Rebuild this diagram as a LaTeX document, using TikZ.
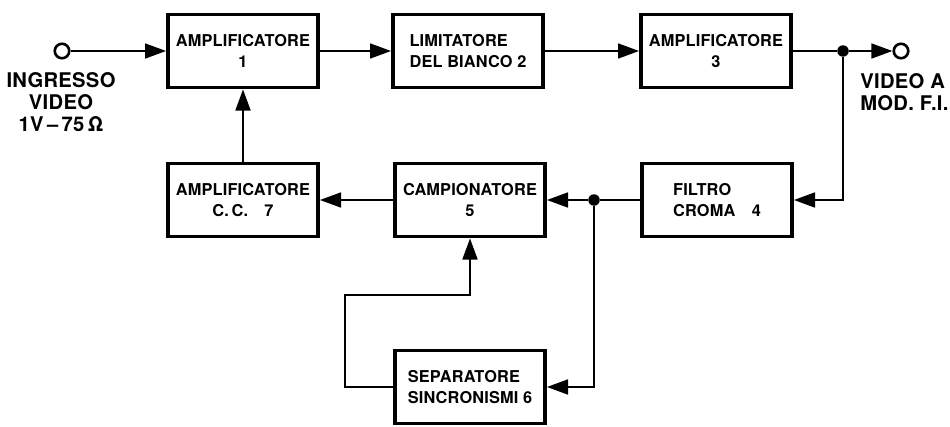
\documentclass[tikz,border=0pt]{standalone}
\usepackage{fontspec}
\setmainfont{TeX Gyre Heros}
\newfontfamily\blockfont[LetterSpace=1]{TeX Gyre Heros}
\newfontfamily\sidefont[LetterSpace=1.5]{TeX Gyre Heros}
\usetikzlibrary{arrows.meta}
\tikzset{block/.style={draw=black,line width=2.2pt,minimum width=3.0cm,minimum height=1.46cm,inner sep=0pt,font=\blockfont\bfseries\fontsize{9.3}{12}\selectfont}}

\begin{document}
\begin{tikzpicture}[x=0.02cm,y=-0.02cm]
\tikzset{wire/.style={line width=1.1pt,-{Triangle[length=12pt,width=8.5pt]}}}
\tikzset{plainwire/.style={line width=1.1pt}}
\tikzset{junction/.style={circle,fill=black,inner sep=0pt,minimum size=0.23cm}}
\tikzset{terminal/.style={circle,draw=black,line width=1.5pt,fill=white,inner sep=0pt,minimum size=0.29cm}}
\tikzset{sidetext/.style={inner sep=0pt,font=\sidefont\bfseries\fontsize{11.5}{12.5}\selectfont}}
\useasboundingbox (0,0) rectangle (950,426);
% blocks
\node[block,align=center] (amp1) at (243,51) {AMPLIFICATORE\\1};
\node[block,align=left] (lim2) at (468,51) {LIMITATORE\\DEL BIANCO 2};
\node[block,align=center] (amp3) at (716,51) {AMPLIFICATORE\\3};
\node[block,align=left] (filt4) at (717,200) {FILTRO\\CROMA\quad 4};
\node[block,align=center] (camp5) at (470,200) {CAMPIONATORE\\5};
\node[block,align=center] (amp7) at (243,200) {AMPLIFICATORE\\C.\,C.\quad 7};
\node[block,align=left] (sep6) at (470,387) {SEPARATORE\\SINCRONISMI 6};
% terminals and junctions
\node[terminal] (inp) at (62,51) {};
\node[terminal] (outp) at (901,51) {};
\node[junction] (j1) at (843,51) {};
\node[junction] (j2) at (594,200) {};
\coordinate (bend) at (345,295);
\node[sidetext,align=center,anchor=north] (inlbl) at (61,72) {INGRESSO\\VIDEO\\1V\,–\,75\,Ω};
\node[sidetext,align=left,anchor=north west] (outlbl) at (860,73) {VIDEO A\\MOD. F.I.};
% wires
\draw[wire] (inp) -- (amp1);
\draw[wire] (amp1) -- (lim2);
\draw[wire] (lim2) -- (amp3);
\draw[plainwire] (amp3) -- (j1);
\draw[wire] (j1) -- (outp);
\draw[wire] (j1) |- (filt4.east);
\draw[plainwire] (filt4) -- (j2);
\draw[wire] (j2) -- (camp5);
\draw[wire] (j2) |- (sep6.east);
\draw[wire] (camp5) -- (amp7);
\draw[wire] (amp7) -- (amp1);
\draw[wire] (sep6.west) -| (bend) -| (camp5.south);
\end{tikzpicture}
\end{document}
